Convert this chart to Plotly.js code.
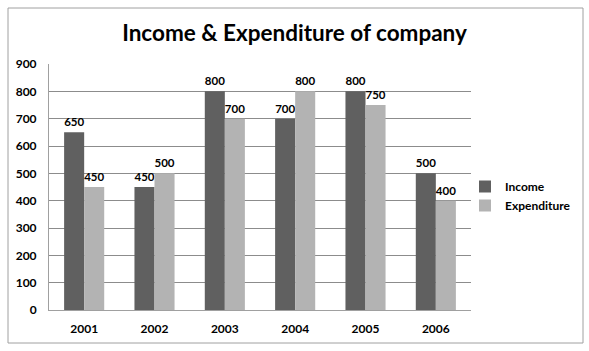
<!DOCTYPE html>
<html><head><meta charset="utf-8">
<script src="https://cdn.plot.ly/plotly-3.0.1.min.js"></script>
<style>html,body{margin:0;padding:0;background:#fff}#c{width:589px;height:351px}</style>
</head><body><div id="c"></div>
<script>
const years = ['2001','2002','2003','2004','2005','2006'];
const income = [650, 450, 800, 700, 800, 500];
const expenditure = [450, 500, 700, 800, 750, 400];
const yTicks = [0,100,200,300,400,500,600,700,800,900];

const F = 'Lato, Calibri, sans-serif';
const lbl = {family: F, size: 12, color: '#000', weight: 'bold'};
const traces = [
  {type:'bar', name:'Income', x: years, y: income, marker:{color:'#606060'},
   text: income.map(String), textposition:'outside', textfont: lbl, cliponaxis:false},
  {type:'bar', name:'Expenditure', x: years, y: expenditure, marker:{color:'#b3b3b3'},
   text: expenditure.map(String), textposition:'outside', textfont: lbl, cliponaxis:false}
];
const W=589,H=351,L=49,R=471,T=64,B=310;
const pw=R-L, ph=B-T;
const layout = {
  width: W, height: H,
  margin: {l: L, r: W-R, t: T, b: H-B, pad: 0, autoexpand:false},
  paper_bgcolor:'#fff', plot_bgcolor:'#fff',
  title: {text:'<b>Income & Expenditure of company</b>', font:{family:F, size:22.5, color:'#000'},
          x:0.5, xref:'container', xanchor:'center', y: 1-33/H, yanchor:'middle'},
  barmode:'group', bargap:0.43, bargroupgap:0,
  xaxis: {tickvals: years, ticktext: years, showgrid:false, showline:true, linecolor:'#a0a0a0', linewidth:1,
          tickfont: lbl, ticks:'', ticklabelstandoff: 8},
  yaxis: {range:[0,900], tickvals: yTicks, showgrid:true, gridcolor:'#8c8c8c', gridwidth:1,
          showline:true, linecolor:'#a0a0a0', tickfont: lbl, ticks:'', ticklabelstandoff: 9, zeroline:false},
  legend: {x: (465-L)/pw, y: (B-172)/ph, xanchor:'left', yanchor:'top', font:{family:F,size:12,color:'#000',weight:'bold'},
           itemwidth:30, tracegroupgap:4, bgcolor:'rgba(0,0,0,0)'},
  shapes: [{type:'rect', xref:'paper', yref:'paper', x0:(8-L)/pw, x1:(583-L)/pw, y0:(B-343)/ph, y1:(B-8)/ph,
            line:{color:'#a0a0a0', width:1}, fillcolor:'rgba(0,0,0,0)', layer:'below'}],
  showlegend:true
};
Plotly.newPlot('c', traces, layout, {displayModeBar:false, staticPlot:true});
</script></body></html>
